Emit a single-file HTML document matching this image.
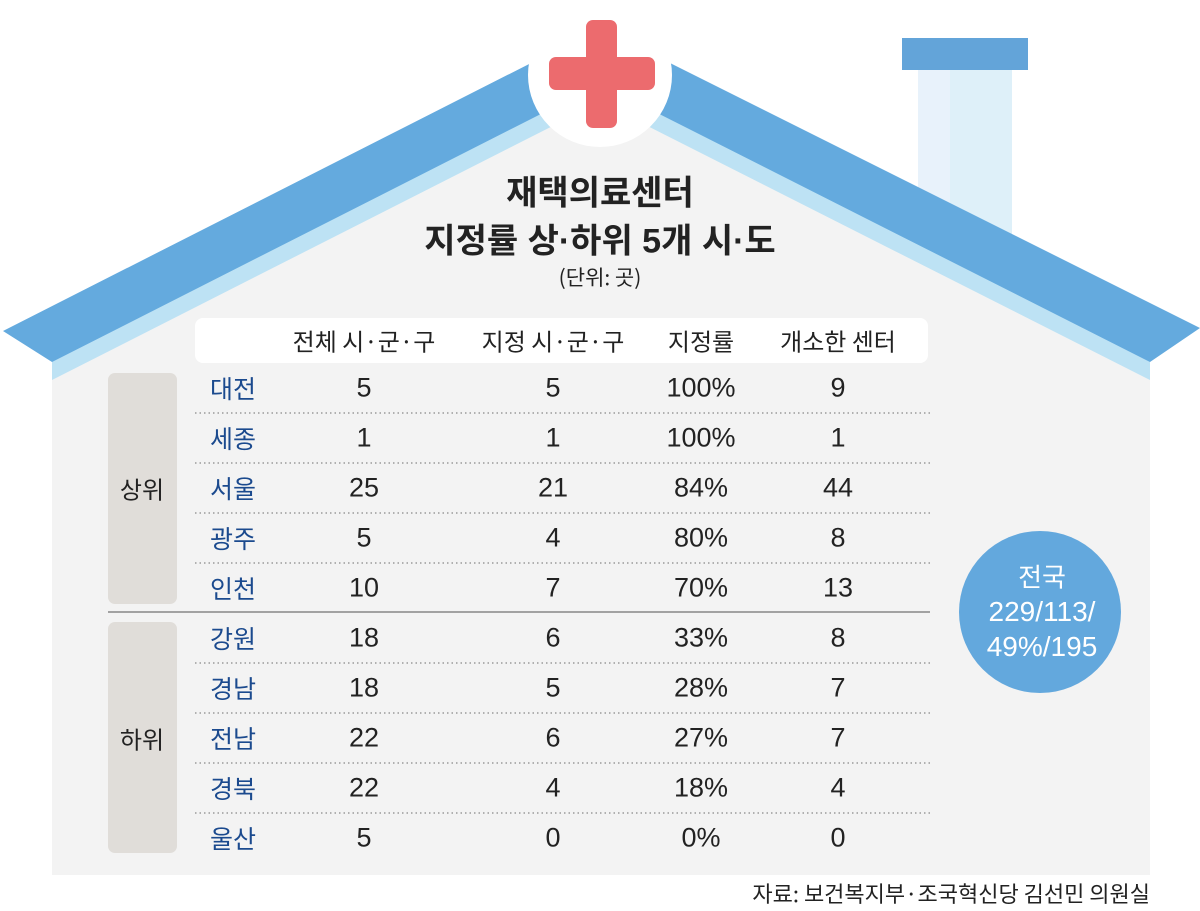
<!DOCTYPE html>
<html><head><meta charset="utf-8"><style>
body{margin:0;width:1200px;height:911px;background:#fff;position:relative;overflow:hidden;font-family:"Liberation Sans","Noto Sans CJK KR",sans-serif;color:#222}
.t{position:absolute;transform:translate(-50%,-50%);white-space:nowrap}
.n{font-size:27px;color:#222}
.r{font-size:25px;color:#1b4a8e;font-family:"Noto Sans CJK KR",sans-serif}
.h{font-size:24px;font-family:"Noto Sans CJK KR",sans-serif;color:#222}
</style></head><body>
<svg width="1200" height="911" style="position:absolute;left:0;top:0">
<rect x="918" y="70" width="32" height="300" fill="#e8f2fb"/>
<rect x="950" y="70" width="62" height="300" fill="#def0f9"/>
<rect x="902" y="38" width="126" height="32" fill="#63a4d9"/>
<polygon points="52,377 600,100 1150,377 1150,875 52,875" fill="#f3f3f3"/>
<polygon points="52,357 600,80 1150,357 1150,380 600,102 52,380" fill="#bde2f4"/>
<polygon points="3,331 600,28 1200,328 1150,362 600,84 52,362" fill="#64aade"/>
<circle cx="600" cy="75" r="72" fill="#fff"/>
<rect x="586" y="20" width="31" height="108" rx="7" fill="#ec6b6e"/>
<rect x="549" y="57" width="106" height="33" rx="7" fill="#ec6b6e"/>
<rect x="195" y="318" width="733" height="45" rx="8" fill="#fff"/>
<rect x="108" y="373" width="69" height="231" rx="7" fill="#e0ddd9"/>
<rect x="108" y="622" width="69" height="231" rx="7" fill="#e0ddd9"/>
<g stroke="#888" stroke-width="1.2" stroke-dasharray="1.5,3">
<line x1="195" y1="413" x2="930" y2="413"/><line x1="195" y1="463" x2="930" y2="463"/>
<line x1="195" y1="513" x2="930" y2="513"/><line x1="195" y1="563" x2="930" y2="563"/>
<line x1="195" y1="663" x2="930" y2="663"/><line x1="195" y1="713" x2="930" y2="713"/>
<line x1="195" y1="763" x2="930" y2="763"/><line x1="195" y1="813" x2="930" y2="813"/>
</g>
<line x1="108" y1="612" x2="930" y2="612" stroke="#888" stroke-width="1.5"/>
<circle cx="1040" cy="612" r="81" fill="#63a8dd"/>
</svg>
<div class="t" style="left:600px;top:190px;font-size:34px;font-weight:bold;font-family:'Noto Sans CJK KR',sans-serif">재택의료센터</div>
<div class="t" style="left:600px;top:238px;font-size:34px;font-weight:bold;font-family:'Liberation Sans','Noto Sans CJK KR',sans-serif">지정률 상·하위 5개 시·도</div>
<div class="t" style="left:600px;top:277px;font-size:21px;font-family:'Noto Sans CJK KR',sans-serif">(단위: 곳)</div>
<div class="t h" style="left:364px;top:340px">전체 시·군·구</div>
<div class="t h" style="left:553px;top:340px">지정 시·군·구</div>
<div class="t h" style="left:701px;top:340px">지정률</div>
<div class="t h" style="left:838px;top:340px">개소한 센터</div>
<div class="t h" style="left:142px;top:488px;font-size:24px">상위</div>
<div class="t h" style="left:142px;top:738px;font-size:24px">하위</div>
<div class="t r" style="left:233px;top:388px">대전</div><div class="t n" style="left:364px;top:388px">5</div><div class="t n" style="left:553px;top:388px">5</div><div class="t n" style="left:701px;top:388px">100%</div><div class="t n" style="left:838px;top:388px">9</div>
<div class="t r" style="left:233px;top:438px">세종</div><div class="t n" style="left:364px;top:438px">1</div><div class="t n" style="left:553px;top:438px">1</div><div class="t n" style="left:701px;top:438px">100%</div><div class="t n" style="left:838px;top:438px">1</div>
<div class="t r" style="left:233px;top:488px">서울</div><div class="t n" style="left:364px;top:488px">25</div><div class="t n" style="left:553px;top:488px">21</div><div class="t n" style="left:701px;top:488px">84%</div><div class="t n" style="left:838px;top:488px">44</div>
<div class="t r" style="left:233px;top:538px">광주</div><div class="t n" style="left:364px;top:538px">5</div><div class="t n" style="left:553px;top:538px">4</div><div class="t n" style="left:701px;top:538px">80%</div><div class="t n" style="left:838px;top:538px">8</div>
<div class="t r" style="left:233px;top:588px">인천</div><div class="t n" style="left:364px;top:588px">10</div><div class="t n" style="left:553px;top:588px">7</div><div class="t n" style="left:701px;top:588px">70%</div><div class="t n" style="left:838px;top:588px">13</div>
<div class="t r" style="left:233px;top:638px">강원</div><div class="t n" style="left:364px;top:638px">18</div><div class="t n" style="left:553px;top:638px">6</div><div class="t n" style="left:701px;top:638px">33%</div><div class="t n" style="left:838px;top:638px">8</div>
<div class="t r" style="left:233px;top:688px">경남</div><div class="t n" style="left:364px;top:688px">18</div><div class="t n" style="left:553px;top:688px">5</div><div class="t n" style="left:701px;top:688px">28%</div><div class="t n" style="left:838px;top:688px">7</div>
<div class="t r" style="left:233px;top:738px">전남</div><div class="t n" style="left:364px;top:738px">22</div><div class="t n" style="left:553px;top:738px">6</div><div class="t n" style="left:701px;top:738px">27%</div><div class="t n" style="left:838px;top:738px">7</div>
<div class="t r" style="left:233px;top:788px">경북</div><div class="t n" style="left:364px;top:788px">22</div><div class="t n" style="left:553px;top:788px">4</div><div class="t n" style="left:701px;top:788px">18%</div><div class="t n" style="left:838px;top:788px">4</div>
<div class="t r" style="left:233px;top:838px">울산</div><div class="t n" style="left:364px;top:838px">5</div><div class="t n" style="left:553px;top:838px">0</div><div class="t n" style="left:701px;top:838px">0%</div><div class="t n" style="left:838px;top:838px">0</div>
<div class="t" style="left:1042px;top:576px;color:#fff;font-size:26px;font-family:'Noto Sans CJK KR',sans-serif">전국</div>
<div class="t" style="left:1042px;top:612px;color:#fff;font-size:28px">229/113/</div>
<div class="t" style="left:1042px;top:647px;color:#fff;font-size:28px">49%/195</div>
<div style="position:absolute;right:50px;top:878px;font-size:22px;line-height:30px;white-space:nowrap;font-family:'Noto Sans CJK KR',sans-serif">자료: 보건복지부·조국혁신당 김선민 의원실</div>
</body></html>
